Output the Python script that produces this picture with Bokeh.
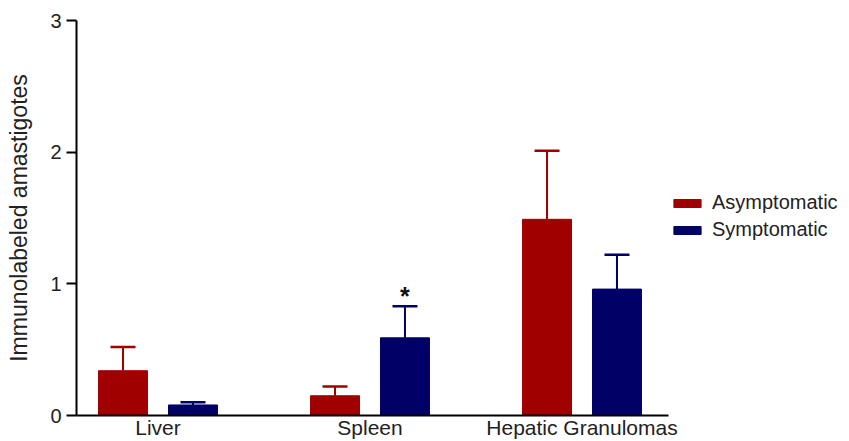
from bokeh.plotting import figure
from bokeh.models import (ColumnDataSource, Range1d, FixedTicker, Legend, LegendItem,
                          Whisker, TeeHead)
from bokeh.core.properties import value
from bokeh.embed import file_html
from bokeh.resources import INLINE

# ---- data ----
categories = ["Liver", "Spleen", "Hepatic Granulomas"]
group_pos = [1, 2, 3]
asym_mean = [0.34, 0.15, 1.49]
asym_upper = [0.52, 0.22, 2.01]
sym_mean = [0.08, 0.59, 0.96]
sym_upper = [0.10, 0.83, 1.22]
series_names = ["Asymptomatic", "Symptomatic"]
significance = ["", "*", ""]

RED = "#A00000"
NAVY = "#000066"
FONT = "Liberation Sans"
OFF = 0.165
BW = 0.231
X0, X1 = 0.6156, 3.408

p = figure(width=849, height=441, output_backend="svg",
           toolbar_location=None, x_range=Range1d(X0, 4.2618),
           y_range=Range1d(0, 3), min_border_left=76, min_border_top=20,
           min_border_bottom=24, min_border_right=0)
p.outline_line_color = None
p.xgrid.visible = False
p.ygrid.visible = False

src_a = ColumnDataSource(dict(x=[g - OFF for g in group_pos], top=asym_mean, upper=asym_upper))
src_s = ColumnDataSource(dict(x=[g + OFF for g in group_pos], top=sym_mean, upper=sym_upper,
                              star=significance))

ra = p.vbar(x="x", top="top", width=BW, source=src_a, fill_color=RED, line_color=RED)
rs = p.vbar(x="x", top="top", width=BW, source=src_s, fill_color=NAVY, line_color=NAVY)

for src, col in ((src_a, RED), (src_s, NAVY)):
    w = Whisker(source=src, base="x", lower="top", upper="upper", dimension="height",
                line_color=col, line_width=2, lower_head=None,
                upper_head=TeeHead(size=25, line_color=col, line_width=2.5))
    p.add_layout(w)

p.text(x="x", y="upper", text="star", source=src_s, text_align="center",
       text_baseline="alphabetic", y_offset=-10, text_font=value(FONT),
       text_font_size="25px", text_font_style="bold", text_color="#111111")

# axes
p.xaxis.ticker = FixedTicker(ticks=group_pos)
p.xaxis.bounds = (X0, X1)
p.xaxis.major_label_overrides = {g: c for g, c in zip(group_pos, categories)}
p.xaxis.major_tick_line_color = None
p.xaxis.major_tick_out = 0
p.xaxis.major_tick_in = 0
p.xaxis.minor_tick_line_color = None
p.xaxis.minor_tick_out = 0
p.xaxis.axis_line_width = 2
p.xaxis.axis_line_color = "black"
p.xaxis.major_label_standoff = 0
p.xaxis.major_label_text_font = FONT
p.xaxis.major_label_text_font_size = "21px"
p.xaxis.major_label_text_color = "#222222"

p.yaxis.ticker = FixedTicker(ticks=[0, 1, 2, 3])
p.yaxis.minor_tick_line_color = None
p.yaxis.axis_line_width = 2
p.yaxis.axis_line_color = "black"
p.yaxis.major_tick_line_width = 2
p.yaxis.major_tick_out = 10
p.yaxis.major_tick_in = 0
p.yaxis.major_label_standoff = 5
p.yaxis.major_label_text_font = FONT
p.yaxis.major_label_text_font_size = "20px"
p.yaxis.major_label_text_color = "#222222"
p.yaxis.axis_label = "Immunolabeled amastigotes"
p.yaxis.axis_label_text_font = FONT
p.yaxis.axis_label_text_font_size = "23px"
p.yaxis.axis_label_text_font_style = "normal"
p.yaxis.axis_label_text_color = "#222222"
p.yaxis.axis_label_standoff = 15

legend = Legend(items=[LegendItem(label=series_names[0], renderers=[ra]),
                       LegendItem(label=series_names[1], renderers=[rs])],
                location=(594, 174), glyph_width=34, glyph_height=10,
                label_height=20, spacing=4, padding=4, margin=0,
                label_standoff=8, border_line_color=None, background_fill_alpha=0,
                label_text_font=FONT, label_text_font_size="20px",
                label_text_color="#222222")
p.add_layout(legend, "center")

open("out.html", "w").write(file_html(p, INLINE))
